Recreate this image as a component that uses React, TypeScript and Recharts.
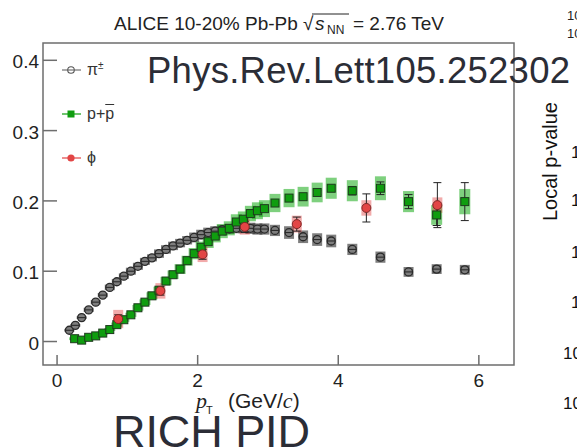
import React from 'react';
import { ComposedChart, Scatter, XAxis, YAxis, ErrorBar, ReferenceArea, Legend } from 'recharts';

// pi+/- (open circles)
const pionPt = [0.175, 0.26, 0.35, 0.45, 0.55, 0.65, 0.75, 0.85, 0.95, 1.05, 1.15, 1.25, 1.35, 1.45, 1.55, 1.65, 1.75, 1.85, 1.95, 2.05, 2.15, 2.25, 2.35, 2.45, 2.55, 2.65, 2.75, 2.85, 2.95, 3.1, 3.3, 3.5, 3.7, 3.9, 4.2, 4.6, 5.0, 5.4, 5.8];
const pionVal = [0.016, 0.023, 0.034, 0.045, 0.056, 0.066, 0.077, 0.085, 0.093, 0.1, 0.107, 0.114, 0.119, 0.125, 0.131, 0.136, 0.14, 0.144, 0.148, 0.152, 0.155, 0.157, 0.159, 0.16, 0.161, 0.161, 0.161, 0.16, 0.16, 0.158, 0.155, 0.149, 0.145, 0.143, 0.131, 0.12, 0.099, 0.103, 0.102];
const pionStat = [0.001, 0.001, 0.001, 0.001, 0.001, 0.001, 0.001, 0.001, 0.001, 0.001, 0.001, 0.001, 0.001, 0.001, 0.001, 0.001, 0.001, 0.001, 0.001, 0.001, 0.001, 0.001, 0.001, 0.001, 0.001, 0.001, 0.001, 0.001, 0.001, 0.002, 0.002, 0.002, 0.002, 0.003, 0.003, 0.003, 0.003, 0.004, 0.004];
const pionSys = [0.002, 0.002, 0.002, 0.003, 0.003, 0.003, 0.004, 0.004, 0.004, 0.005, 0.005, 0.005, 0.005, 0.006, 0.006, 0.006, 0.006, 0.006, 0.007, 0.007, 0.007, 0.007, 0.007, 0.007, 0.007, 0.007, 0.008, 0.008, 0.008, 0.008, 0.009, 0.009, 0.009, 0.009, 0.008, 0.008, 0.007, 0.007, 0.007];

// p + pbar (green squares)
const protonPt = [0.25, 0.35, 0.45, 0.55, 0.65, 0.75, 0.85, 0.95, 1.05, 1.15, 1.25, 1.35, 1.45, 1.55, 1.65, 1.75, 1.85, 1.95, 2.05, 2.15, 2.25, 2.35, 2.45, 2.55, 2.65, 2.75, 2.85, 2.95, 3.1, 3.3, 3.5, 3.7, 3.9, 4.2, 4.6, 5.0, 5.4, 5.8];
const protonVal = [0.004, 0.002, 0.006, 0.008, 0.012, 0.017, 0.024, 0.031, 0.038, 0.048, 0.056, 0.065, 0.073, 0.086, 0.095, 0.103, 0.115, 0.125, 0.134, 0.142, 0.15, 0.157, 0.161, 0.17, 0.174, 0.182, 0.186, 0.189, 0.197, 0.204, 0.206, 0.212, 0.218, 0.2145, 0.218, 0.199, 0.18, 0.199];
const protonStat = [0.001, 0.001, 0.001, 0.001, 0.001, 0.001, 0.001, 0.001, 0.001, 0.001, 0.001, 0.001, 0.001, 0.001, 0.001, 0.001, 0.001, 0.001, 0.001, 0.001, 0.001, 0.001, 0.001, 0.001, 0.001, 0.001, 0.001, 0.001, 0.002, 0.002, 0.003, 0.003, 0.004, 0.006, 0.009, 0.01, 0.015, 0.027];
const protonSys = [0.002, 0.002, 0.002, 0.002, 0.002, 0.002, 0.003, 0.003, 0.003, 0.004, 0.004, 0.005, 0.005, 0.006, 0.006, 0.007, 0.007, 0.008, 0.008, 0.009, 0.009, 0.01, 0.01, 0.011, 0.011, 0.011, 0.012, 0.012, 0.013, 0.013, 0.014, 0.014, 0.015, 0.015, 0.017, 0.015, 0.014, 0.018];

// phi (red circles)
const phiPt = [0.87, 1.47, 2.07, 2.67, 3.41, 4.4, 5.41];
const phiVal = [0.032, 0.072, 0.124, 0.163, 0.167, 0.19, 0.194];
const phiStat = [0.006, 0.006, 0.007, 0.008, 0.01, 0.02, 0.032];
const phiSys = [0.013, 0.011, 0.011, 0.011, 0.012, 0.011, 0.011];

const xTicks = [0, 2, 4, 6];
const yTicks = [0, 0.1, 0.2, 0.3, 0.4];
const xDomain = [-0.2, 6.5];
const yDomain = [-0.0334, 0.4246];

const SANS = '"Liberation Sans", Arial, Helvetica, sans-serif';
const SERIF = '"Liberation Serif", "Times New Roman", serif';
const FRAME = '#6e6e6e';

const toPoints = (pt: number[], val: number[], stat: number[], sys: number[]) =>
	pt.map((x, i) => ({ x, y: val[i], stat: stat[i], sys: sys[i] }));

const pionData = toPoints(pionPt, pionVal, pionStat, pionSys);
const protonData = toPoints(protonPt, protonVal, protonStat, protonSys);
const phiData = toPoints(phiPt, phiVal, phiStat, phiSys);

function XTick(props: any) {
	const { x, y, payload } = props;
	return (
		<g>
			<line x1={x} y1={y} x2={x} y2={y - 10} stroke={FRAME} strokeWidth={1.5} />
			<text x={x} y={y + 22} textAnchor='middle' fontFamily={SANS} fontSize={19} fill='#222'>
				{payload.value}
			</text>
		</g>
	);
}

function YTick(props: any) {
	const { x, y, payload } = props;
	const label = payload.value === 0 ? '0' : payload.value.toFixed(1);
	return (
		<g>
			<line x1={x} y1={y} x2={x + 14} y2={y} stroke={FRAME} strokeWidth={1.5} />
			<text x={x - 4} y={y + 8} textAnchor='end' fontFamily={SANS} fontSize={19} fill='#222'>
				{label}
			</text>
		</g>
	);
}

const PionDot = (p: any) => (
	<g>
		<circle cx={p.cx} cy={p.cy} r={4} fill='#7e7e7e' stroke='#2a2a2a' strokeWidth={1.3} />
		<line x1={p.cx - 4} x2={p.cx + 4} y1={p.cy} y2={p.cy} stroke='#2a2a2a' strokeWidth={1.1} />
	</g>
);

const ProtonDot = (p: any) => (
	<rect x={p.cx - 4} y={p.cy - 4} width={8} height={8} fill='#0f9d0f' stroke='#1d3b1d' strokeWidth={1} />
);

const PhiDot = (p: any) => <circle cx={p.cx} cy={p.cy} r={4.5} fill='#e24545' stroke='#7d2626' strokeWidth={1} />;

function LegendBox() {
	const row = { display: 'flex', alignItems: 'center', height: 44 } as const;
	const text = { marginLeft: 4, fontFamily: SANS, fontSize: 16, color: '#333', lineHeight: 1 } as const;
	return (
		<div>
			<div style={row}>
				<svg width={22} height={12}>
					<line x1={1} x2={20} y1={6} y2={6} stroke='#555' strokeWidth={1} />
					<circle cx={10} cy={6} r={3.3} fill='#fff' stroke='#555' strokeWidth={1.1} />
					<line x1={7} x2={13} y1={6} y2={6} stroke='#555' strokeWidth={1} />
				</svg>
				<span style={text}>
					π<sup style={{ fontSize: 10 }}>±</sup>
				</span>
			</div>
			<div style={row}>
				<svg width={22} height={12}>
					<line x1={1} x2={20} y1={6} y2={6} stroke='#0f9d0f' strokeWidth={1.2} />
					<rect x={6.5} y={2.5} width={7} height={7} fill='#0f9d0f' />
				</svg>
				<span style={text}>
					p+<span style={{ textDecoration: 'overline' }}>p</span>
				</span>
			</div>
			<div style={row}>
				<svg width={22} height={12}>
					<line x1={1} x2={20} y1={6} y2={6} stroke='#e24545' strokeWidth={1.2} />
					<circle cx={10} cy={6} r={3.6} fill='#e24545' />
				</svg>
				<span style={text}>ϕ</span>
			</div>
		</div>
	);
}

export default function App() {
	return (
		<div style={{ position: 'absolute', left: 0, top: 0, width: 577, height: 447, background: '#fff' }}>
			<ComposedChart width={577} height={447} margin={{ top: 43, right: 63, left: 0, bottom: 0 }}>
				<XAxis
					type='number'
					dataKey='x'
					domain={xDomain}
					ticks={xTicks}
					allowDataOverflow
					height={82}
					axisLine={false}
					tickLine={false}
					tickSize={0}
					tickMargin={0}
					tick={<XTick />}
				/>
				<YAxis
					type='number'
					dataKey='y'
					domain={yDomain}
					ticks={yTicks}
					allowDataOverflow
					width={43}
					axisLine={false}
					tickLine={false}
					tickSize={0}
					tickMargin={0}
					tick={<YTick />}
				/>
				<ReferenceArea
					x1={xDomain[0]}
					x2={xDomain[1]}
					y1={yDomain[0]}
					y2={yDomain[1]}
					fill='none'
					fillOpacity={0}
					stroke={FRAME}
					strokeWidth={1.5}
				/>
				<Legend
					layout='horizontal'
					align='center'
					verticalAlign='middle'
					content={<LegendBox />}
					wrapperStyle={{ left: 61, top: 48, width: 90, height: 132 }}
				/>
				<Scatter name='pi' data={pionData} dataKey='y' shape={PionDot} isAnimationActive={false}>
					<ErrorBar dataKey='sys' direction='y' width={0} stroke='rgba(40,40,40,0.6)' strokeWidth={10} isAnimationActive={false} />
					<ErrorBar dataKey='stat' direction='y' width={4} stroke='#222' strokeWidth={1} isAnimationActive={false} />
				</Scatter>
				<Scatter name='p' data={protonData} dataKey='y' shape={ProtonDot} isAnimationActive={false}>
					<ErrorBar dataKey='sys' direction='y' width={0} stroke='rgba(20,170,20,0.55)' strokeWidth={11} isAnimationActive={false} />
					<ErrorBar dataKey='stat' direction='y' width={4} stroke='#222' strokeWidth={1} isAnimationActive={false} />
				</Scatter>
				<Scatter name='phi' data={phiData} dataKey='y' shape={PhiDot} isAnimationActive={false}>
					<ErrorBar dataKey='sys' direction='y' width={0} stroke='rgba(226,69,69,0.45)' strokeWidth={10} isAnimationActive={false} />
					<ErrorBar dataKey='stat' direction='y' width={4} stroke='#222' strokeWidth={1} isAnimationActive={false} />
				</Scatter>
			</ComposedChart>

			<svg width={577} height={447} style={{ position: 'absolute', left: 0, top: 0, pointerEvents: 'none' }}>
				{/* title */}
				<text y={30} fontFamily={SANS} fontSize={19} fill='#222'>
					<tspan x={114}>ALICE 10-20% Pb-Pb</tspan>
					<tspan x={303}>√</tspan>
					<tspan x={315} fontStyle='italic'>s</tspan>
					<tspan x={327} dy={4} fontSize={12}>NN</tspan>
					<tspan x={353} dy={-4}>= 2.76 TeV</tspan>
				</text>
				<line x1={312} x2={349} y1={14} y2={14} stroke='#222' strokeWidth={1} />

				{/* x axis title */}
				<text y={408} fill='#222'>
					<tspan x={196} fontFamily={SERIF} fontStyle='italic' fontSize={22}>p</tspan>
					<tspan x={206} dy={6} fontFamily={SANS} fontSize={11}>T</tspan>
					<tspan x={228} dy={-6} fontFamily={SANS} fontSize={21}>(GeV/</tspan>
					<tspan fontFamily={SERIF} fontStyle='italic' fontSize={22}>c</tspan>
					<tspan fontFamily={SANS} fontSize={21}>)</tspan>
				</text>

				{/* slide annotations */}
				<text x={147} y={83} fontFamily={SANS} fontSize={36.5} fill='#2b2d36' textLength={423}>
					Phys.Rev.Lett105.252302
				</text>
				<text x={113} y={447} fontFamily={SANS} fontSize={45} fill='#2b2d36' textLength={197}>
					RICH PID
				</text>

				{/* neighbouring plot, cut at the edge */}
				<text x={557} y={221} transform='rotate(-90 557 221)' fontFamily={SANS} fontSize={20} fill='#111'>
					Local p-value
				</text>
				<text x={567} y={20} fontFamily={SANS} fontSize={13} fill='#222'>10</text>
				<text x={567} y={38} fontFamily={SANS} fontSize={13} fill='#222'>10</text>
				<text x={571} y={158} fontFamily={SANS} fontSize={17} fill='#111'>1</text>
				<text x={571} y={206} fontFamily={SANS} fontSize={17} fill='#111'>1</text>
				<text x={571} y={258} fontFamily={SANS} fontSize={17} fill='#111'>1</text>
				<text x={571} y={308} fontFamily={SANS} fontSize={17} fill='#111'>1</text>
				<text x={563} y={359} fontFamily={SANS} fontSize={17} fill='#111'>10</text>
				<text x={563} y={409} fontFamily={SANS} fontSize={17} fill='#111'>10</text>
			</svg>
		</div>
	);
}
